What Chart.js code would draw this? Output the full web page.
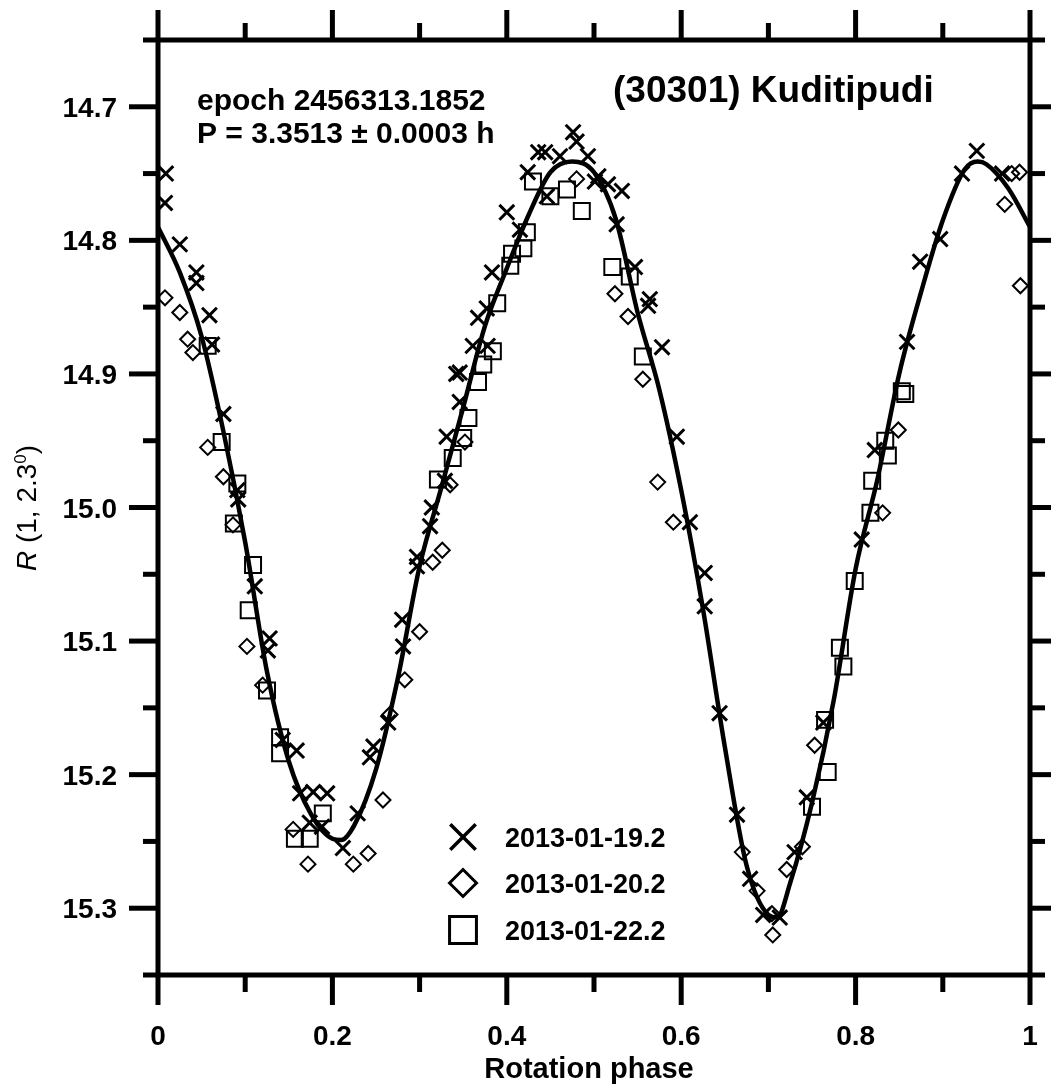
<!DOCTYPE html>
<html>
<head>
<meta charset="utf-8">
<title>(30301) Kuditipudi</title>
<script src="https://cdn.jsdelivr.net/npm/chart.js@4.4.1/dist/chart.umd.min.js"></script>
<style>
    html, body { margin: 0; padding: 0; background: #fff; }
    #wrap { width: 1051px; height: 1086px; }
</style>
</head>
<body>
<div id="wrap"><canvas id="lcChart" width="1051" height="1086"></canvas></div>
<script>
// ==========================================
// DATA
// ==========================================
const seriesLabels = ['2013-01-19.2', '2013-01-20.2', '2013-01-22.2'];

// 2013-01-19.2 (crosses)
const phase19 = [0.009, 0.008, 0.025, 0.044, 0.044, 0.059, 0.062, 0.075, 0.091, 0.092, 0.111, 0.128, 0.126, 0.143, 0.159, 0.163, 0.178, 0.194, 0.174, 0.188,
    0.212, 0.229, 0.243, 0.247, 0.264, 0.281, 0.280, 0.297, 0.297, 0.312, 0.314, 0.329, 0.331, 0.346, 0.346, 0.342, 0.361, 0.378, 0.367, 0.377,
    0.383, 0.400, 0.415, 0.424, 0.436, 0.444, 0.446, 0.461, 0.476, 0.480, 0.493, 0.505, 0.501, 0.516, 0.532, 0.526, 0.547, 0.564, 0.562, 0.578,
    0.595, 0.610, 0.627, 0.627, 0.644, 0.664, 0.679, 0.694, 0.713, 0.730, 0.744, 0.763, 0.807, 0.822, 0.859, 0.874, 0.897, 0.922, 0.939, 0.968];
const mag19 = [14.750, 14.772, 14.803, 14.824, 14.832, 14.856, 14.878, 14.930, 14.987, 14.994, 15.059, 15.098, 15.107, 15.174, 15.182, 15.214, 15.213, 15.214, 15.236, 15.239,
    15.255, 15.229, 15.187, 15.179, 15.161, 15.104, 15.084, 15.044, 15.037, 15.014, 15.000, 14.980, 14.947, 14.921, 14.899, 14.900, 14.879, 14.879, 14.858, 14.851,
    14.824, 14.779, 14.792, 14.749, 14.734, 14.734, 14.767, 14.737, 14.719, 14.726, 14.737, 14.752, 14.756, 14.758, 14.763, 14.788, 14.820, 14.844, 14.849, 14.880,
    14.947, 15.011, 15.049, 15.074, 15.154, 15.230, 15.278, 15.305, 15.307, 15.258, 15.217, 15.161, 15.024, 14.957, 14.876, 14.816, 14.799, 14.750, 14.733, 14.750];

// 2013-01-20.2 (diamonds)
const phase20 = [0.008, 0.025, 0.034, 0.040, 0.057, 0.075, 0.086, 0.102, 0.120, 0.155, 0.172, 0.224, 0.241, 0.258, 0.266, 0.283, 0.300, 0.315, 0.326, 0.335,
    0.352, 0.480, 0.524, 0.539, 0.556, 0.573, 0.591, 0.670, 0.687, 0.704, 0.705, 0.721, 0.739, 0.753, 0.831, 0.849, 0.971, 0.979, 0.988, 0.989];
const mag20 = [14.843, 14.854, 14.874, 14.884, 14.955, 14.977, 15.013, 15.104, 15.133, 15.241, 15.267, 15.267, 15.259, 15.219, 15.155, 15.129, 15.093, 15.041, 15.032, 14.983,
    14.951, 14.754, 14.840, 14.857, 14.904, 14.981, 15.011, 15.258, 15.287, 15.304, 15.320, 15.271, 15.254, 15.178, 15.004, 14.942, 14.773, 14.750, 14.749, 14.834];

// 2013-01-22.2 (squares)
const phase22 = [0.057, 0.073, 0.091, 0.087, 0.109, 0.104, 0.125, 0.140, 0.140, 0.189, 0.157, 0.174, 0.321, 0.338, 0.350, 0.356, 0.367, 0.373, 0.384, 0.389,
    0.404, 0.406, 0.419, 0.423, 0.430, 0.450, 0.469, 0.486, 0.521, 0.541, 0.556, 0.782, 0.786, 0.750, 0.768, 0.765, 0.799, 0.817, 0.819, 0.837,
    0.834, 0.853, 0.857];
const mag22 = [14.879, 14.951, 14.982, 15.012, 15.043, 15.077, 15.137, 15.172, 15.184, 15.229, 15.248, 15.248, 14.979, 14.963, 14.948, 14.933, 14.906, 14.893, 14.883, 14.847,
    14.819, 14.810, 14.806, 14.794, 14.756, 14.767, 14.762, 14.778, 14.820, 14.827, 14.887, 15.105, 15.119, 15.224, 15.198, 15.159, 15.055, 15.004, 14.980, 14.961,
    14.950, 14.913, 14.915];

// fitted light curve
const curvePhase = [0, 0.025, 0.05, 0.075, 0.1, 0.125, 0.15, 0.175, 0.2, 0.21, 0.225, 0.25, 0.275, 0.3, 0.325, 0.35, 0.375, 0.4, 0.425, 0.45,
    0.475, 0.5, 0.525, 0.55, 0.575, 0.6, 0.625, 0.65, 0.675, 0.7, 0.71, 0.725, 0.75, 0.775, 0.8, 0.825, 0.85, 0.875, 0.9, 0.925,
    0.94, 0.95, 0.975, 1];
const curveMag = [14.790, 14.824, 14.872, 14.943, 15.026, 15.123, 15.190, 15.229, 15.248, 15.249, 15.238, 15.196, 15.128, 15.044, 14.985, 14.925, 14.864, 14.821, 14.781, 14.749,
    14.741, 14.749, 14.784, 14.854, 14.912, 14.987, 15.076, 15.179, 15.268, 15.305, 15.307, 15.281, 15.221, 15.144, 15.046, 14.979, 14.900, 14.839, 14.785, 14.747,
    14.741, 14.743, 14.761, 14.790];

// axes
const xTickValues = [0, 0.2, 0.4, 0.6, 0.8, 1];
const xTickLabels = ['0', '0.2', '0.4', '0.6', '0.8', '1'];
const xMinorValues = [0.1, 0.3, 0.5, 0.7, 0.9];
const yTickValues = [14.7, 14.8, 14.9, 15.0, 15.1, 15.2, 15.3];
const yTickLabels = ['14.7', '14.8', '14.9', '15.0', '15.1', '15.2', '15.3'];
const yMinorValues = [14.65, 14.75, 14.85, 14.95, 15.05, 15.15, 15.25, 15.35];

const FONT = '"Liberation Sans", Arial, sans-serif';

const toPoints = (xs, ys) => xs.map((x, i) => ({ x: x, y: ys[i] }));

// ==========================================
// MARKER HELPER (legend)
// ==========================================
function drawMarker(ctx, style, x, y, r) {
    ctx.beginPath();
    if (style === 'crossRot') {
        const d = r * Math.SQRT1_2;
        ctx.moveTo(x - d, y - d); ctx.lineTo(x + d, y + d);
        ctx.moveTo(x + d, y - d); ctx.lineTo(x - d, y + d);
    } else if (style === 'rectRot') {
        ctx.moveTo(x - r, y); ctx.lineTo(x, y - r); ctx.lineTo(x + r, y); ctx.lineTo(x, y + r);
        ctx.closePath();
    } else {
        const h = r * Math.SQRT1_2;
        ctx.rect(x - h, y - h, 2 * h, 2 * h);
    }
    ctx.stroke();
}

// ==========================================
// FRAME, TICKS, LABELS, LEGEND
// ==========================================
const framePlugin = {
    id: 'frame',
    afterDraw(chart) {
        const ctx = chart.ctx;
        const xs = chart.scales.x;
        const ys = chart.scales.y;
        const a = chart.chartArea;
        const line = (x1, y1, x2, y2) => { ctx.beginPath(); ctx.moveTo(x1, y1); ctx.lineTo(x2, y2); ctx.stroke(); };

        ctx.save();
        ctx.strokeStyle = '#000';
        ctx.fillStyle = '#000';
        ctx.lineWidth = 5;
        ctx.strokeRect(a.left, a.top, a.right - a.left, a.bottom - a.top);

        // x ticks (bottom + top, outward)
        xTickValues.forEach(v => {
            const px = xs.getPixelForValue(v);
            line(px, a.bottom, px, a.bottom + 30);
            line(px, a.top, px, a.top - 30);
        });
        xMinorValues.forEach(v => {
            const px = xs.getPixelForValue(v);
            line(px, a.bottom, px, a.bottom + 17);
            line(px, a.top, px, a.top - 17);
        });
        // y ticks (left + right, outward)
        yTickValues.forEach(v => {
            const py = ys.getPixelForValue(v);
            line(a.left, py, a.left - 29, py);
            line(a.right, py, a.right + 29, py);
        });
        yMinorValues.forEach(v => {
            const py = ys.getPixelForValue(v);
            line(a.left, py, a.left - 15, py);
            line(a.right, py, a.right + 15, py);
        });

        // tick labels
        ctx.font = 'bold 28px ' + FONT;
        ctx.textAlign = 'center';
        ctx.textBaseline = 'alphabetic';
        xTickValues.forEach((v, i) => ctx.fillText(xTickLabels[i], xs.getPixelForValue(v), 1045));
        ctx.textAlign = 'right';
        yTickValues.forEach((v, i) => ctx.fillText(yTickLabels[i], 117, ys.getPixelForValue(v) + 10));

        // x title
        ctx.font = 'bold 29px ' + FONT;
        ctx.textAlign = 'center';
        ctx.fillText('Rotation phase', 589, 1078);

        // y title: R (1, 2.3°) with italic R and superscript 0
        const parts = [
            { t: 'R', f: 'italic 28px ' + FONT, dy: 0 },
            { t: ' (1, 2.3', f: '28px ' + FONT, dy: 0 },
            { t: '0', f: '17px ' + FONT, dy: -10 },
            { t: ')', f: '28px ' + FONT, dy: 0 }
        ];
        let total = 0;
        parts.forEach(p => { ctx.font = p.f; p.w = ctx.measureText(p.t).width; total += p.w; });
        ctx.save();
        ctx.translate(26, 508);
        ctx.rotate(-Math.PI / 2);
        ctx.textAlign = 'left';
        let cx = -total / 2;
        parts.forEach(p => { ctx.font = p.f; ctx.fillText(p.t, cx, 10 + p.dy); cx += p.w; });
        ctx.restore();

        // annotations
        ctx.textAlign = 'left';
        ctx.font = 'bold 30px ' + FONT;
        ctx.fillText('epoch 2456313.1852', 197, 110);
        ctx.fillText('P = 3.3513 \u00b1 0.0003 h', 197, 143);
        ctx.font = 'bold 37px ' + FONT;
        ctx.fillText('(30301) Kuditipudi', 613, 102);

        // legend
        const legendRows = [
            { style: 'crossRot', r: 18, w: 3.5, y: 837 },
            { style: 'rectRot', r: 13.5, w: 3, y: 883 },
            { style: 'rect', r: 19, w: 3, y: 930 }
        ];
        ctx.font = 'bold 27px ' + FONT;
        legendRows.forEach((row, i) => {
            ctx.lineWidth = row.w;
            drawMarker(ctx, row.style, 463, row.y, row.r);
            ctx.fillText(seriesLabels[i], 505, row.y + 10);
        });
        ctx.restore();
    }
};

// ==========================================
// CHART
// ==========================================
const ctxLc = document.getElementById('lcChart');
new Chart(ctxLc, {
    type: 'scatter',
    data: {
        datasets: [
            {
                label: 'fit',
                data: toPoints(curvePhase, curveMag),
                showLine: true,
                borderColor: '#000',
                borderWidth: 4.5,
                pointRadius: 0,
                cubicInterpolationMode: 'monotone',
                clip: false
            },
            {
                label: seriesLabels[0],
                data: toPoints(phase19, mag19),
                pointStyle: 'crossRot',
                pointRadius: 10.5,
                borderColor: '#000',
                borderWidth: 3,
                clip: false
            },
            {
                label: seriesLabels[1],
                data: toPoints(phase20, mag20),
                pointStyle: 'rectRot',
                pointRadius: 7.5,
                borderColor: '#000',
                backgroundColor: 'rgba(0,0,0,0)',
                borderWidth: 2,
                clip: false
            },
            {
                label: seriesLabels[2],
                data: toPoints(phase22, mag22),
                pointStyle: 'rect',
                pointRadius: 11.3,
                borderColor: '#000',
                backgroundColor: 'rgba(0,0,0,0)',
                borderWidth: 2,
                clip: false
            }
        ]
    },
    options: {
        responsive: false,
        animation: false,
        devicePixelRatio: 1,
        events: [],
        layout: { padding: { left: 158, right: 21, top: 40, bottom: 111 } },
        plugins: {
            legend: { display: false },
            tooltip: { enabled: false }
        },
        scales: {
            x: { type: 'linear', min: 0, max: 1, display: false },
            y: { type: 'linear', min: 14.65, max: 15.35, reverse: true, display: false }
        }
    },
    plugins: [framePlugin]
});
</script>
</body>
</html>
